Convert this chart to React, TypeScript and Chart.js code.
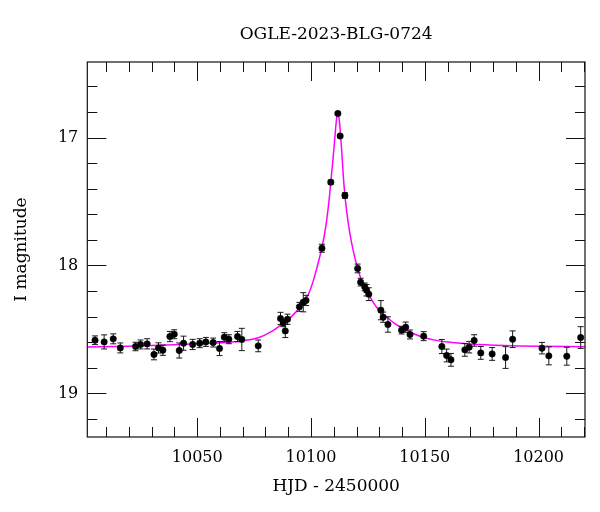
import { useEffect, useRef } from "react";
import { Chart, registerables } from "chart.js";

Chart.register(...registerables);

const chartTitle = "OGLE-2023-BLG-0724";
const xAxisTitle = "HJD - 2450000";
const yAxisTitle = "I magnitude";

const xMin = 10001.7;
const xMax = 10220.4;
const yMin = 16.41;
const yMax = 19.34;

const xTickLabels = [10050, 10100, 10150, 10200];
const yTickLabels = [17, 18, 19];
const xMinorStep = 10;
const yMinorStep = 0.2;

// observations
const hjd = [
  10005.1, 10009.1, 10013.1, 10016.2, 10022.9, 10025.1, 10028.0, 10031.0, 10033.0, 10034.9,
  10038.0, 10039.9, 10042.1, 10044.0, 10048.0, 10051.1, 10053.8, 10057.0, 10059.8, 10061.9,
  10063.9, 10067.7, 10069.6, 10076.8, 10086.6, 10087.8, 10088.7, 10089.7, 10094.9, 10096.6,
  10097.8, 10104.8, 10108.7, 10111.8, 10112.8, 10114.9, 10120.5, 10121.8, 10123.6, 10124.4,
  10125.4, 10130.7, 10131.7, 10133.8, 10139.8, 10141.6, 10143.5, 10149.5, 10157.5, 10159.6,
  10161.5, 10167.6, 10169.5, 10171.7, 10174.6, 10179.6, 10185.5, 10188.6, 10201.5, 10204.5,
  10212.4, 10218.5,
];
const mag = [
  18.584, 18.597, 18.573, 18.644, 18.633, 18.617, 18.612, 18.695, 18.644, 18.662,
  18.555, 18.537, 18.664, 18.607, 18.617, 18.607, 18.597, 18.602, 18.649, 18.56,
  18.576, 18.555, 18.578, 18.628, 18.414, 18.448, 18.511, 18.42, 18.323, 18.287,
  18.273, 17.865, 17.349, 16.812, 16.988, 17.453, 18.023, 18.13, 18.167, 18.193,
  18.224, 18.349, 18.404, 18.461, 18.505, 18.482, 18.539, 18.552, 18.633, 18.703,
  18.737, 18.659, 18.638, 18.586, 18.683, 18.691, 18.719, 18.576, 18.646, 18.706,
  18.709, 18.563,
];
const magErr = [
  0.034, 0.055, 0.039, 0.039, 0.033, 0.035, 0.04, 0.042, 0.04, 0.04,
  0.04, 0.035, 0.059, 0.055, 0.04, 0.035, 0.035, 0.035, 0.055, 0.035,
  0.035, 0.04, 0.087, 0.046, 0.048, 0.03, 0.052, 0.04, 0.035, 0.075,
  0.04, 0.031, 0.015, 0.01, 0.01, 0.022, 0.034, 0.03, 0.03, 0.045,
  0.05, 0.075, 0.04, 0.06, 0.03, 0.04, 0.035, 0.035, 0.055, 0.05,
  0.05, 0.05, 0.045, 0.045, 0.05, 0.05, 0.085, 0.065, 0.045, 0.07,
  0.07, 0.085,
];

// model curve
const modelHjd = [
  10001.7, 10020, 10040, 10055, 10066.6, 10076.8, 10082.7, 10086, 10089.3, 10093,
  10096.6, 10099, 10101, 10103, 10104.7, 10106, 10106.9, 10108, 10108.7, 10109.5,
  10110.2, 10111.2, 10111.8, 10112.4, 10113.4, 10114.2, 10114.9, 10116, 10117.1, 10118.5,
  10120.3, 10122.5, 10125.9, 10129, 10133.2, 10136.5, 10140.5, 10144.9, 10150, 10155,
  10160, 10170, 10185, 10200, 10220.4,
];
const modelMag = [
  18.636, 18.63, 18.62, 18.608, 18.596, 18.565, 18.515, 18.475, 18.435, 18.37,
  18.297, 18.22, 18.12, 17.99, 17.867, 17.75, 17.646, 17.48, 17.349, 17.2,
  17.06, 16.86, 16.8, 16.86, 17.08, 17.3, 17.453, 17.62, 17.75, 17.88,
  18.01, 18.13, 18.245, 18.33, 18.401, 18.45, 18.492, 18.531, 18.565, 18.585,
  18.598, 18.613, 18.625, 18.631, 18.635,
];

const FONT = "'DejaVu Serif', 'Liberation Serif', serif";

const errorBarPlugin = {
  id: "errorBars",
  afterDatasetDraw(chart: any, args: any) {
    if (args.index !== 1) return;
    const { ctx, scales } = chart;
    const x = scales.x;
    const y = scales.y;
    ctx.save();
    ctx.strokeStyle = "#1a1a1a";
    ctx.lineWidth = 1;
    hjd.forEach((t, i) => {
      const px = x.getPixelForValue(t);
      const top = y.getPixelForValue(mag[i] - magErr[i]);
      const bot = y.getPixelForValue(mag[i] + magErr[i]);
      ctx.beginPath();
      ctx.moveTo(px, top);
      ctx.lineTo(px, bot);
      ctx.moveTo(px - 3, top);
      ctx.lineTo(px + 3, top);
      ctx.moveTo(px - 3, bot);
      ctx.lineTo(px + 3, bot);
      ctx.stroke();
    });
    ctx.restore();
  },
};

const framePlugin = {
  id: "frame",
  afterDraw(chart: any) {
    const { ctx, chartArea, scales } = chart;
    const { left, right, top, bottom } = chartArea;
    const x = scales.x;
    const y = scales.y;
    ctx.save();
    ctx.strokeStyle = "#111";
    ctx.lineWidth = 1.2;
    ctx.strokeRect(left, top, right - left, bottom - top);
    ctx.lineWidth = 1;
    ctx.beginPath();
    const start = Math.ceil(xMin / xMinorStep) * xMinorStep;
    for (let v = start; v <= xMax + 1e-9; v += xMinorStep) {
      const px = Math.round(x.getPixelForValue(v)) + 0.5;
      const major = xTickLabels.includes(Math.round(v));
      const len = major ? 19 : 10;
      ctx.moveTo(px, bottom);
      ctx.lineTo(px, bottom - len);
      ctx.moveTo(px, top);
      ctx.lineTo(px, top + len);
    }
    const ys = Math.ceil(yMin / yMinorStep - 1e-9);
    for (let k = ys; k * yMinorStep <= yMax + 1e-9; k++) {
      const v = k * yMinorStep;
      const py = Math.round(y.getPixelForValue(v)) + 0.5;
      const major = yTickLabels.some((t) => Math.abs(t - v) < 1e-6);
      const len = major ? 19 : 10;
      ctx.moveTo(left, py);
      ctx.lineTo(left + len, py);
      ctx.moveTo(right, py);
      ctx.lineTo(right - len, py);
    }
    ctx.stroke();

    ctx.fillStyle = "#000";
    ctx.font = `17px ${FONT}`;
    ctx.textAlign = "center";
    ctx.textBaseline = "middle";
    ctx.fillText(chartTitle, (left + right) / 2, 35);
    ctx.restore();
  },
};

export default function App() {
  const ref = useRef<HTMLCanvasElement | null>(null);

  useEffect(() => {
    document.body.style.margin = "0";
    const canvas = ref.current;
    if (!canvas) return;
    const chart = new Chart(canvas, {
      type: "scatter",
      data: {
        datasets: [
          {
            type: "scatter",
            data: hjd.map((t, i) => ({ x: t, y: mag[i] })),
            pointRadius: 3.2,
            pointBackgroundColor: "#000",
            pointBorderColor: "#000",
            pointBorderWidth: 0.5,
            showLine: false,
          },
          {
            type: "line",
            data: modelHjd.map((t, i) => ({ x: t, y: modelMag[i] })),
            borderColor: "#ff00ff",
            borderWidth: 1.5,
            pointRadius: 0,
            fill: false,
            cubicInterpolationMode: "monotone",
          },
        ],
      } as any,
      options: {
        responsive: false,
        animation: false,
        devicePixelRatio: 1,
        layout: { padding: { left: 0, right: 15, top: 62, bottom: 0 } },
        plugins: {
          legend: { display: false },
          tooltip: { enabled: false },
          title: { display: false },
        },
        scales: {
          x: {
            type: "linear",
            min: xMin,
            max: xMax,
            afterBuildTicks: (scale: any) => {
              scale.ticks = xTickLabels.map((v) => ({ value: v }));
            },
            afterFit: (scale: any) => {
              scale.height = 75;
            },
            grid: { display: false, drawTicks: false },
            border: { display: false },
            ticks: {
              autoSkip: false,
              maxRotation: 0,
              padding: 11,
              color: "#000",
              font: { family: FONT, size: 16 },
              callback: (v: any) => String(v),
            },
            title: {
              display: true,
              text: xAxisTitle,
              color: "#000",
              font: { family: FONT, size: 17 },
              padding: { top: 0, bottom: 15 },
            },
          },
          y: {
            type: "linear",
            reverse: true,
            min: yMin,
            max: yMax,
            afterBuildTicks: (scale: any) => {
              scale.ticks = yTickLabels.map((v) => ({ value: v }));
            },
            afterFit: (scale: any) => {
              scale.width = 87.3;
            },
            grid: { display: false, drawTicks: false },
            border: { display: false },
            ticks: {
              autoSkip: false,
              padding: 9,
              color: "#000",
              font: { family: FONT, size: 16 },
              callback: (v: any) => String(v),
            },
            title: {
              display: true,
              text: yAxisTitle,
              color: "#000",
              font: { family: FONT, size: 17 },
              padding: { top: 11, bottom: 0 },
            },
          },
        },
      } as any,
      plugins: [errorBarPlugin, framePlugin],
    });
    return () => chart.destroy();
  }, []);

  return <canvas ref={ref} width={600} height={512} style={{ display: "block" }} />;
}
